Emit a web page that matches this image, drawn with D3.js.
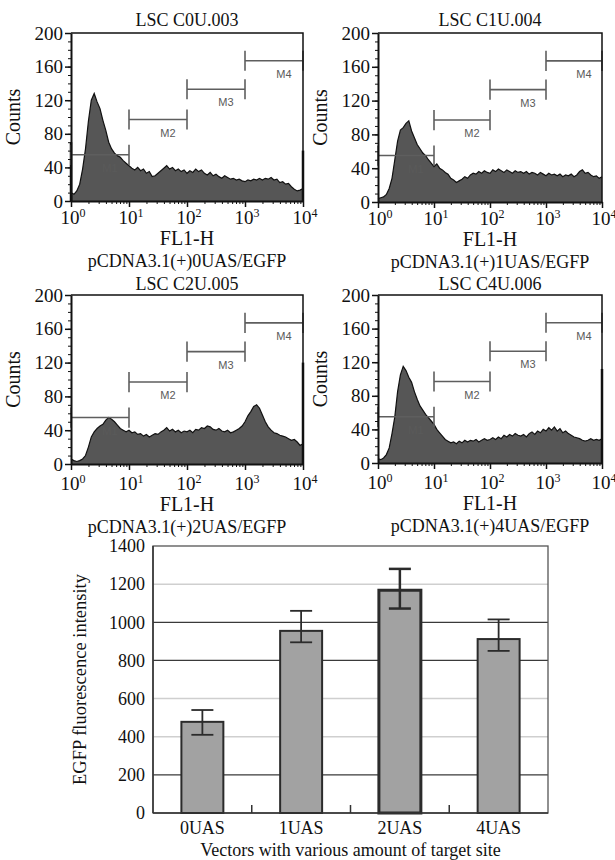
<!DOCTYPE html>
<html>
<head>
<meta charset="utf-8">
<script src="https://cdn.jsdelivr.net/npm/d3@7"></script>
<style>
  body { margin: 0; background: #fff; }
  svg { display: block; }
  text { font-family: "Liberation Serif", "Times New Roman", serif; fill: #111; }
</style>
</head>
<body>
<div id="chart"></div>
<script>
// ---- data ----
// histogram channels, in decades (10^0 .. 10^4), one count every 0.05 decade
var chanDecade = d3.range(0, 81).map(function (i) { return i / 20; });

var countsC0U = [10, 8, 12, 20, 38, 62, 95, 120, 128, 118, 110, 96, 84, 70, 62, 57, 54, 52, 48, 45,
  42, 39, 37, 40, 36, 38, 33, 35, 29, 30, 33, 36, 39, 42, 38, 40, 36, 38, 35, 37,
  33, 36, 34, 38, 35, 37, 33, 31, 34, 30, 32, 29, 27, 30, 28, 26, 27, 25, 26, 24,
  23, 25, 24, 26, 25, 27, 25, 27, 26, 28, 25, 26, 22, 23, 20, 21, 17, 14, 12, 13, 15];
var countsC1U = [4, 5, 6, 9, 16, 28, 50, 72, 85, 88, 93, 96, 84, 76, 68, 63, 58, 55, 50, 46,
  42, 45, 40, 38, 35, 33, 28, 26, 23, 25, 27, 30, 28, 32, 34, 33, 36, 34, 37, 35,
  34, 38, 36, 39, 37, 35, 38, 36, 34, 37, 35, 36, 34, 36, 33, 35, 34, 32, 35, 33,
  31, 34, 32, 33, 31, 33, 30, 32, 31, 33, 30, 32, 36, 38, 34, 35, 32, 30, 31, 28, 30];
var countsC2U = [6, 4, 3, 4, 6, 10, 20, 32, 38, 42, 45, 47, 52, 55, 53, 50, 46, 42, 40, 38,
  40, 37, 38, 35, 36, 33, 35, 32, 34, 36, 35, 38, 40, 43, 39, 41, 38, 40, 37, 39,
  38, 40, 37, 41, 40, 43, 42, 45, 44, 41, 40, 42, 39, 38, 40, 37, 38, 40, 42, 45,
  50, 57, 62, 68, 70, 66, 58, 50, 44, 40, 37, 36, 34, 33, 32, 30, 28, 29, 26, 22, 24];
var countsC4U = [5, 4, 6, 10, 18, 35, 55, 85, 105, 115, 110, 102, 96, 85, 76, 68, 63, 58, 54, 50,
  46, 40, 36, 32, 28, 26, 24, 25, 23, 26, 24, 27, 25, 27, 26, 28, 25, 27, 29, 27,
  28, 30, 28, 31, 29, 33, 31, 34, 32, 35, 33, 32, 34, 31, 35, 37, 34, 38, 36, 40,
  38, 42, 39, 43, 38, 41, 36, 38, 35, 33, 31, 30, 29, 27, 26, 27, 29, 27, 28, 27, 29];

// off-scale pile-ups at the first / last channel
var edgeLow = [70, 0, 0, 0];
var edgeHigh = [60, 0, 120, 112];

var histTitles = ["LSC C0U.003", "LSC C1U.004", "LSC C2U.005", "LSC C4U.006"];
var histVectors = ["pCDNA3.1(+)0UAS/EGFP", "pCDNA3.1(+)1UAS/EGFP", "pCDNA3.1(+)2UAS/EGFP", "pCDNA3.1(+)4UAS/EGFP"];

// gate markers M1..M4
var markerNames = ["M1", "M2", "M3", "M4"];
var markerFrom = [1, 10, 100, 1000];
var markerTo = [10, 100, 1000, 10000];
var markerLevel = [55, 97, 133, 167];

var countTicks = [0, 40, 80, 120, 160, 200];

// bar chart
var barCats = ["0UAS", "1UAS", "2UAS", "4UAS"];
var barMeans = [478, 955, 1168, 912];
var barErrHigh = [540, 1060, 1280, 1015];
var barErrLow = [410, 895, 1072, 850];
var barTicks = [0, 200, 400, 600, 800, 1000, 1200, 1400];

// ---- layout ----
var W = 615, H = 860;
var svg = d3.select("#chart").append("svg")
    .attr("width", W)
    .attr("height", H);

// lab = extra drop of the labels under the plot, tt = title offset above plot
var panelBox = [
    { x0: 71, x1: 303, y0: 33, y1: 201, lab: 0, tt: 7 },
    { x0: 378, x1: 602, y0: 33, y1: 202, lab: 0, tt: 7 },
    { x0: 71, x1: 303, y0: 295, y1: 464, lab: 3, tt: 5 },
    { x0: 378, x1: 602, y0: 295, y1: 463, lab: 3, tt: 5 }
];
var allCounts = [countsC0U, countsC1U, countsC2U, countsC4U];

function drawHistogram(k) {
    var b = panelBox[k];
    var counts = allCounts[k];
    var g = svg.append("g");

    var x = d3.scaleLog().domain([1, 10000]).range([b.x0, b.x1]);
    var y = d3.scaleLinear().domain([0, 200]).range([b.y1, b.y0]);

    var area = d3.area()
        .x(function (d, i) { return x(Math.pow(10, chanDecade[i])); })
        .y0(y(0))
        .y1(function (d) { return y(d); });
    var line = d3.line()
        .x(function (d, i) { return x(Math.pow(10, chanDecade[i])); })
        .y(function (d) { return y(d); });

    g.append("path").datum(counts)
        .attr("d", area)
        .attr("fill", "#565656");
    g.append("path").datum(counts)
        .attr("d", line)
        .attr("fill", "none")
        .attr("stroke", "#111")
        .attr("stroke-width", 1.2);

    // pile-up spikes at both ends
    [[1, edgeLow[k]], [10000, edgeHigh[k]]].forEach(function (e) {
        if (e[1] > 0) {
            g.append("line")
                .attr("x1", x(e[0])).attr("x2", x(e[0]))
                .attr("y1", y(0)).attr("y2", y(e[1]))
                .attr("stroke", "#111").attr("stroke-width", 2.5);
        }
    });

    // gate markers
    markerNames.forEach(function (m, i) {
        var xa = x(markerFrom[i]), xb = x(markerTo[i]), yl = y(markerLevel[i]);
        var mg = g.append("g").attr("stroke", "#5e5e5e").attr("stroke-width", 1.6);
        mg.append("line").attr("x1", xa).attr("x2", xb).attr("y1", yl).attr("y2", yl);
        mg.append("line").attr("x1", xa).attr("x2", xa).attr("y1", y(markerLevel[i] + 12)).attr("y2", y(markerLevel[i] - 12));
        mg.append("line").attr("x1", xb).attr("x2", xb).attr("y1", y(markerLevel[i] + 12)).attr("y2", y(markerLevel[i] - 12));
        g.append("text")
            .text(m)
            .attr("x", (xa + xb) / 2 + 10)
            .attr("y", yl + 17)
            .style("font-family", "'Liberation Sans', Arial, sans-serif")
            .style("font-size", "11px")
            .style("fill", "#5a5a5a")
            .style("text-anchor", "middle");
    });

    // frame top / right
    g.append("path")
        .attr("d", "M" + b.x0 + "," + b.y0 + "H" + b.x1 + "V" + b.y1)
        .attr("fill", "none").attr("stroke", "#111").attr("stroke-width", 1.5);

    // y axis
    var minorY = d3.range(0, 201, 10);
    g.append("g")
        .attr("transform", "translate(" + b.x0 + ",0)")
        .call(d3.axisLeft(y).tickValues(minorY).tickSize(3).tickFormat(""))
        .call(function (a) { a.select(".domain").remove(); a.selectAll("line").attr("stroke", "#111"); });
    var ya = g.append("g")
        .attr("transform", "translate(" + b.x0 + ",0)")
        .call(d3.axisLeft(y).tickValues(countTicks).tickSize(6).tickPadding(2).tickSizeOuter(0));
    ya.select(".domain").attr("stroke", "#111").attr("stroke-width", 2);
    ya.selectAll("line").attr("stroke", "#111").attr("stroke-width", 1.5);
    ya.selectAll("text").style("font-size", "19px").style("font-family", "'Liberation Serif', serif").attr("fill", "#111");

    // x axis, log decades
    var minorX = [];
    [1, 10, 100, 1000].forEach(function (d) {
        for (var j = 2; j <= 9; j++) minorX.push(d * j);
    });
    g.append("g")
        .attr("transform", "translate(0," + b.y1 + ")")
        .call(d3.axisBottom(x).tickValues(minorX).tickSize(3).tickFormat(""))
        .call(function (a) { a.select(".domain").remove(); a.selectAll("line").attr("stroke", "#111"); });
    var xa = g.append("g")
        .attr("transform", "translate(0," + b.y1 + ")")
        .call(d3.axisBottom(x).tickValues([1, 10, 100, 1000, 10000]).tickSize(6).tickSizeOuter(0).tickFormat(""));
    xa.select(".domain").attr("stroke", "#111").attr("stroke-width", 2);
    xa.selectAll("line").attr("stroke", "#111").attr("stroke-width", 1.5);
    [0, 1, 2, 3, 4].forEach(function (p) {
        var t = g.append("text")
            .attr("x", x(Math.pow(10, p)) + 2)
            .attr("y", b.y1 + 23 + b.lab)
            .style("font-size", "19px")
            .style("text-anchor", "middle");
        t.append("tspan").text("10");
        t.append("tspan").text(p).attr("dy", -7).style("font-size", "12px");
    });

    // labels
    var cx = (b.x0 + b.x1) / 2;
    g.append("text").text(histTitles[k])
        .attr("x", cx).attr("y", b.y0 - b.tt)
        .style("font-size", "18px").style("text-anchor", "middle");
    g.append("text").text("Counts")
        .attr("transform", "translate(" + (b.x0 - 51) + "," + ((b.y0 + b.y1) / 2) + ") rotate(-90)")
        .style("font-size", "20px").style("text-anchor", "middle");
    g.append("text").text("FL1-H")
        .attr("x", cx).attr("y", b.y1 + 44 + b.lab)
        .style("font-size", "20px").style("text-anchor", "middle");
    g.append("text").text(histVectors[k])
        .attr("x", cx).attr("y", b.y1 + 66 + b.lab)
        .style("font-size", "18px").style("text-anchor", "middle");
}

[0, 1, 2, 3].forEach(drawHistogram);

// ---- bar chart ----
var bx0 = 153, bx1 = 548, by0 = 546, by1 = 813;
var darkGrid = [200, 800, 1000];

var xb = d3.scaleBand().domain(barCats).range([bx0, bx1])
    .paddingInner(0.575).paddingOuter(0.2875);
var yb = d3.scaleLinear().domain([0, 1400]).range([by1, by0]);

var gb = svg.append("g");

gb.selectAll(".grid")
    .data(barTicks.filter(function (d) { return d > 0 && d < 1400; }))
    .enter().append("line")
    .attr("class", "grid")
    .attr("x1", bx0).attr("x2", bx1)
    .attr("y1", function (d) { return yb(d); })
    .attr("y2", function (d) { return yb(d); })
    .attr("stroke", function (d) { return darkGrid.indexOf(d) >= 0 ? "#3a3a3a" : "#cfcfcf"; })
    .attr("stroke-width", function (d) { return darkGrid.indexOf(d) >= 0 ? 1.3 : 1.5; });

gb.append("rect")
    .attr("x", bx0).attr("y", by0)
    .attr("width", bx1 - bx0).attr("height", by1 - by0)
    .attr("fill", "none").attr("stroke", "#555").attr("stroke-width", 1.3);

gb.selectAll(".bar")
    .data(barMeans)
    .enter().append("rect")
    .attr("class", "bar")
    .attr("x", function (d, i) { return xb(barCats[i]); })
    .attr("width", xb.bandwidth())
    .attr("y", function (d) { return yb(d); })
    .attr("height", function (d) { return yb(0) - yb(d); })
    .attr("fill", "#a2a2a2")
    .attr("stroke", "#2b2b2b")
    .attr("stroke-width", function (d, i) { return i === 2 ? 3 : 2; });

// error bars
barCats.forEach(function (c, i) {
    var cx = xb(c) + xb.bandwidth() / 2;
    var eg = gb.append("g").attr("stroke", "#2b2b2b").attr("stroke-width", i === 2 ? 2.5 : 1.8);
    eg.append("line").attr("x1", cx).attr("x2", cx).attr("y1", yb(barErrHigh[i])).attr("y2", yb(barErrLow[i]));
    eg.append("line").attr("x1", cx - 11).attr("x2", cx + 11).attr("y1", yb(barErrHigh[i])).attr("y2", yb(barErrHigh[i]));
    eg.append("line").attr("x1", cx - 11).attr("x2", cx + 11).attr("y1", yb(barErrLow[i])).attr("y2", yb(barErrLow[i]));
});

// x axis line + separators between categories
gb.append("line")
    .attr("x1", bx0).attr("x2", bx1).attr("y1", by1).attr("y2", by1)
    .attr("stroke", "#333").attr("stroke-width", 1.5);
gb.append("line")
    .attr("x1", bx0).attr("x2", bx0).attr("y1", by0).attr("y2", by1)
    .attr("stroke", "#333").attr("stroke-width", 1.5);
barCats.slice(1).forEach(function (c) {
    var sx = xb(c) - xb.step() * xb.paddingInner() / 2;
    gb.append("line")
        .attr("x1", sx).attr("x2", sx).attr("y1", by1).attr("y2", by1 - 8)
        .attr("stroke", "#333").attr("stroke-width", 1.5);
});

var yAxisB = gb.append("g")
    .attr("transform", "translate(" + bx0 + ",0)")
    .call(d3.axisLeft(yb).tickValues(barTicks).tickSize(0).tickPadding(8).tickFormat(d3.format("d")));
yAxisB.select(".domain").remove();
yAxisB.selectAll("text").style("font-size", "18px").style("font-family", "'Liberation Serif', serif").attr("fill", "#111");

var xAxisB = gb.append("g")
    .attr("transform", "translate(0," + by1 + ")")
    .call(d3.axisBottom(xb).tickSize(0).tickPadding(8));
xAxisB.select(".domain").remove();
xAxisB.selectAll("text").style("font-size", "18px").style("font-family", "'Liberation Serif', serif").attr("fill", "#111");

gb.append("text").text("EGFP fluorescence intensity")
    .attr("transform", "translate(" + 86 + "," + ((by0 + by1) / 2) + ") rotate(-90)")
    .style("font-size", "18.5px").style("text-anchor", "middle");
gb.append("text").text("Vectors with various amount of target site")
    .attr("x", (bx0 + bx1) / 2).attr("y", 856)
    .style("font-size", "18px").style("text-anchor", "middle");
</script>
</body>
</html>
